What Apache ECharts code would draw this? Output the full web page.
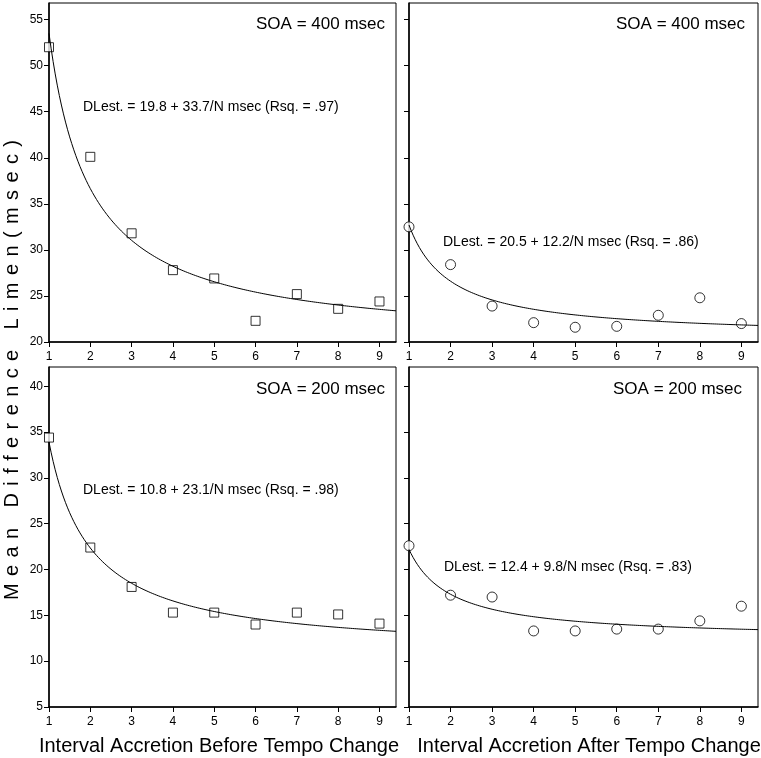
<!DOCTYPE html>
<html><head><meta charset="utf-8">
<script src="https://cdn.jsdelivr.net/npm/echarts@6/dist/echarts.min.js"></script>
<style>html,body{margin:0;padding:0;background:#fff}#c{width:761px;height:758px}</style>
</head><body><div id="c"></div>
<script>
// ---- data ----
const xTicks = [1, 2, 3, 4, 5, 6, 7, 8, 9];
const topYTicks = [20, 25, 30, 35, 40, 45, 50, 55];
const botYTicks = [5, 10, 15, 20, 25, 30, 35, 40];
const soa400Before = [52.0, 40.1, 31.8, 27.8, 26.9, 22.3, 25.2, 23.6, 24.4];
const soa400After  = [32.5, 28.4, 23.9, 22.1, 21.6, 21.7, 22.9, 24.8, 22.0];
const soa200Before = [34.4, 22.4, 18.1, 15.3, 15.3, 14.0, 15.3, 15.1, 14.1];
const soa200After  = [22.6, 17.2, 17.0, 13.3, 13.3, 13.5, 13.5, 14.4, 16.0];
const fitA = [19.8, 20.5, 10.8, 12.4];
const fitB = [33.7, 12.2, 23.1, 9.8];
const panelTitles = ['SOA = 400 msec', 'SOA = 400 msec', 'SOA = 200 msec', 'SOA = 200 msec'];
const fitEquations = [
  'DLest. = 19.8 + 33.7/N msec (Rsq. = .97)',
  'DLest. = 20.5 + 12.2/N msec (Rsq. = .86)',
  'DLest. = 10.8 + 23.1/N msec (Rsq. = .98)',
  'DLest. = 12.4 + 9.8/N msec (Rsq. = .83)'
];
const xTitles = ['Interval Accretion Before Tempo Change', 'Interval Accretion After Tempo Change'];
const yTitle = 'Mean Difference Limen(msec)';

// ---- build ----
const FONT = '"Liberation Sans", Arial, Helvetica, sans-serif';
const panelData = [soa400Before, soa400After, soa200Before, soa200After];
const symbols = ['rect', 'circle', 'rect', 'circle'];
const symSizes = [9, 10, 9, 10];
const grids = [
  {left: 49, top: 3, width: 347, height: 339},
  {left: 409, top: 3, width: 349, height: 339},
  {left: 49, top: 367, width: 347, height: 340},
  {left: 409, top: 367, width: 349, height: 340}
];
const X_MAX = 9.4;
const yRanges = [[20, 56.8], [20, 56.8], [5, 42.1], [5, 42.1]];

const xAxis = [], yAxis = [], series = [], graphic = [];
grids.forEach((g, i) => {
  g.show = true; g.borderColor = '#000'; g.borderWidth = 1; g.containLabel = false;
  xAxis.push({
    type: 'value', gridIndex: i, min: 1, max: X_MAX, interval: 1,
    axisLine: {lineStyle: {color: '#000', width: 1.5}},
    axisTick: {length: 5, lineStyle: {color: '#000'}, customValues: xTicks},
    axisLabel: {customValues: xTicks, color: '#000', fontFamily: FONT, fontSize: 12, margin: 9},
    splitLine: {show: false}
  });
  const ticks = i < 2 ? topYTicks : botYTicks;
  yAxis.push({
    type: 'value', gridIndex: i, min: yRanges[i][0], max: yRanges[i][1], interval: 5,
    axisLine: {show: true, lineStyle: {color: '#000', width: 1.5}},
    axisTick: {show: true, length: 5, lineStyle: {color: '#000'}, customValues: ticks},
    axisLabel: {show: i % 2 === 0, customValues: ticks, color: '#000', fontFamily: FONT, fontSize: 12, margin: 6},
    splitLine: {show: false}
  });
  // fitted curve from the printed equation
  const curve = [];
  for (let n = 1; n <= X_MAX + 1e-9; n += 0.05) curve.push([n, fitA[i] + fitB[i] / n]);
  series.push({
    type: 'line', xAxisIndex: i, yAxisIndex: i, data: curve, showSymbol: false,
    lineStyle: {color: '#000', width: 1}, silent: true, animation: false
  });
  series.push({
    type: 'scatter', xAxisIndex: i, yAxisIndex: i,
    data: xTicks.map((x, k) => [x, panelData[i][k]]),
    symbol: symbols[i], symbolSize: symSizes[i], clip: false,
    itemStyle: {color: '#fff', borderColor: '#000', borderWidth: 1}, animation: false
  });
});

// panel texts
const titlePos = [[385, 24], [745, 24], [385, 389], [742, 389]];
const eqPos = [[83, 107], [443, 242], [83, 490], [444, 567]];
for (let i = 0; i < 4; i++) {
  graphic.push({type: 'text', x: titlePos[i][0], y: titlePos[i][1],
    style: {text: panelTitles[i], fill: '#000', font: '17px ' + FONT, align: 'right', verticalAlign: 'middle'}});
  graphic.push({type: 'text', x: eqPos[i][0], y: eqPos[i][1],
    style: {text: fitEquations[i], fill: '#000', font: '14px ' + FONT, align: 'left', verticalAlign: 'middle'}});
}
graphic.push({type: 'text', x: 219, y: 746,
  style: {text: xTitles[0], fill: '#000', font: '20px ' + FONT, align: 'center', verticalAlign: 'middle'}});
graphic.push({type: 'text', x: 589, y: 746,
  style: {text: xTitles[1], fill: '#000', font: '20px ' + FONT, align: 'center', verticalAlign: 'middle'}});

// letter-spaced vertical y title: spread characters from y=600 up to y=140
const yFont = '20px ' + FONT;
const ctx = document.createElement('canvas').getContext('2d');
ctx.font = yFont;
const chars = yTitle.split('');
const widths = chars.map(c => ctx.measureText(c).width);
const totalW = widths.reduce((a, b) => a + b, 0);
const gap = (460 - totalW) / (chars.length - 1);
let off = 0;
chars.forEach((c, k) => {
  const w = widths[k];
  if (c !== ' ') {
    graphic.push({type: 'text', x: 12, y: 600 - off - w / 2, rotation: Math.PI / 2,
      style: {text: c, fill: '#000', font: yFont, align: 'center', verticalAlign: 'middle'}});
  }
  off += w + gap;
});

const chart = echarts.init(document.getElementById('c'), null, {renderer: 'canvas'});
chart.setOption({backgroundColor: '#fff', animation: false, grid: grids, xAxis, yAxis, series, graphic});
</script></body></html>
